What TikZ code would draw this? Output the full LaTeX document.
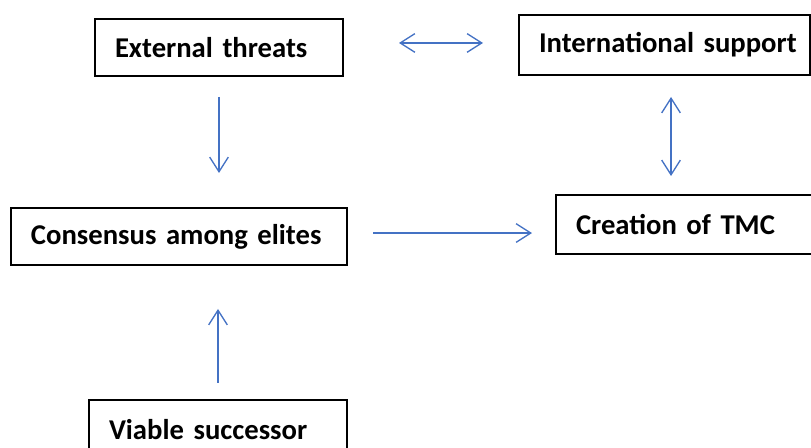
\documentclass[tikz,border=0pt]{standalone}
\usepackage{fontspec}
\setmainfont{Carlito}
\usetikzlibrary{arrows.meta}
\definecolor{linkblue}{HTML}{4472C4}

\tikzset{
	box/.style={draw, line width=1.5pt, rectangle, anchor=north west, inner xsep=0pt,
		align=left, execute at begin node=\hspace*{15pt},
		font=\fontsize{21.5}{24}\selectfont\bfseries},
	link/.style={draw=linkblue, line width=1pt,
		arrows={-Straight Barb[length=11pt,width=14pt]}},
	twoway/.style={link, arrows={Straight Barb[length=11pt,width=14pt]-Straight Barb[length=11pt,width=14pt]}}
}

\begin{document}
\begin{tikzpicture}[x=0.75pt,y=-0.75pt]
		\useasboundingbox (0,0) rectangle (811,448);
		\clip (0,0) rectangle (811,448);
		\node[box, text width=186pt, minimum height=42.75pt] (ext) at (94,18) {External threats};
		\node[box, text width=218.25pt, minimum height=45pt] (intl) at (518,14) {International support};
		\node[box, text width=252pt, minimum height=42.75pt] (cons) at (10,207) {Consensus among elites};
		\node[box, text width=210pt, minimum height=44.25pt] (tmc) at (555,194) {Creation of TMC};
		\node[box, text width=193.5pt, minimum height=45pt] (viable) at (88,399) {Viable successor};
		\draw[twoway, shorten <=41.25pt, shorten >=26.25pt] ([yshift=3.4pt]ext.east) -- ([yshift=3.4pt]ext.east -| intl.west);
		\draw[link, shorten <=15pt, shorten >=25.5pt] (ext.south) -- (ext.south |- cons.north);
		\draw[twoway, shorten <=15.75pt, shorten >=13.5pt] ([xshift=4.9pt]intl.south) -- ([xshift=4.9pt]intl.south |- tmc.north);
		\draw[link, shorten <=18.75pt, shorten >=17.25pt] ([yshift=2.6pt]cons.east) -- ([yshift=2.6pt]cons.east -| tmc.west);
		\draw[link, shorten <=12pt, shorten >=32.25pt] (viable.north) -- (viable.north |- cons.south);
	\end{tikzpicture}
\end{document}
